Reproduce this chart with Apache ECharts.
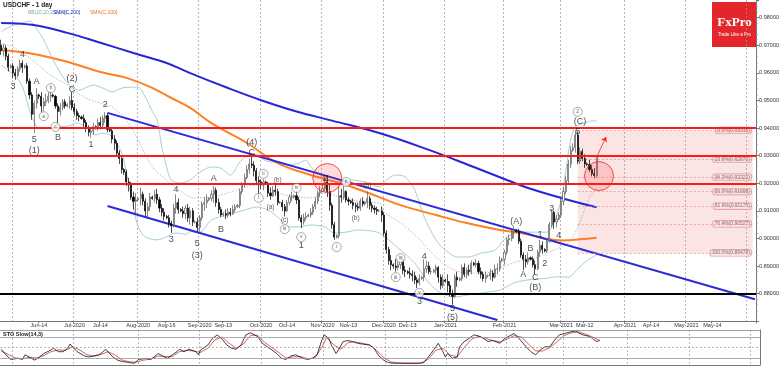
<!DOCTYPE html>
<html><head><meta charset="utf-8">
<script src="https://cdn.jsdelivr.net/npm/echarts@6.0.0/dist/echarts.min.js"></script>
<style>html,body{margin:0;padding:0;background:#fff}#c{width:782px;height:366px}</style>
</head><body><div id="c"></div>
<script>
// ---------- DATA ----------
const startDate = '2020-05-26', endDate = '2021-06-04';
const closedDays = ['2020-12-25', '2021-01-01'];
// daily candles [open, close, low, high] in pips (x 0.0001)
const candles = [
[9700,9680,9665,9720],[9680,9690,9660,9705],[9690,9660,9645,9700],[9660,9620,9605,9670],[9620,9625,9615,9630],
[9625,9600,9580,9635],[9600,9590,9575,9615],[9590,9615,9585,9625],[9615,9635,9605,9648],[9635,9620,9600,9645],
[9620,9625,9615,9630],[9625,9570,9560,9635],[9570,9520,9505,9580],[9520,9450,9430,9530],[9450,9490,9382,9500],
[9490,9520,9470,9545],[9520,9515,9505,9525],[9515,9480,9455,9530],[9480,9495,9462,9510],[9495,9500,9480,9525],
[9500,9515,9490,9530],[9515,9520,9495,9540],[9520,9515,9510,9525],[9515,9480,9470,9520],[9480,9460,9410,9490],
[9460,9475,9445,9490],[9475,9495,9465,9505],[9495,9480,9470,9505],[9480,9485,9475,9490],[9485,9500,9470,9515],
[9500,9475,9465,9530],[9475,9460,9445,9490],[9460,9445,9430,9470],[9445,9440,9425,9455],[9440,9435,9430,9445],
[9435,9420,9405,9450],[9420,9400,9385,9430],[9400,9385,9370,9410],[9385,9390,9365,9400],[9390,9405,9375,9420],
[9405,9400,9395,9410],[9400,9420,9390,9435],[9420,9410,9395,9440],[9410,9435,9400,9445],[9435,9445,9420,9458],
[9445,9395,9385,9455],[9395,9390,9385,9400],[9390,9360,9345,9400],[9360,9345,9320,9375],[9345,9310,9300,9355],
[9310,9290,9270,9320],[9290,9250,9235,9300],[9250,9240,9230,9255],[9240,9205,9190,9250],[9205,9195,9170,9220],
[9195,9150,9140,9205],[9150,9135,9105,9170],[9135,9140,9090,9165],[9140,9145,9135,9150],[9145,9160,9120,9185],
[9160,9135,9120,9170],[9135,9100,9080,9145],[9100,9115,9075,9130],[9115,9150,9100,9165],[9150,9145,9140,9155],
[9145,9160,9130,9175],[9160,9140,9125,9180],[9140,9110,9095,9150],[9110,9095,9080,9125],[9095,9080,9065,9110],
[9080,9075,9070,9085],[9075,9055,9040,9085],[9055,9045,9020,9065],[9045,9110,9040,9125],[9110,9130,9090,9160],
[9130,9105,9090,9145],[9105,9100,9095,9110],[9100,9090,9075,9115],[9090,9110,9070,9120],[9110,9075,9060,9125],
[9075,9100,9050,9115],[9100,9060,9045,9110],[9060,9060,9055,9065],[9060,9040,9025,9075],[9040,9075,9025,9085],
[9075,9125,9065,9135],[9125,9130,9100,9150],[9130,9140,9110,9160],[9140,9145,9135,9150],[9145,9160,9135,9175],
[9160,9175,9130,9190],[9175,9130,9115,9185],[9130,9105,9090,9145],[9105,9085,9078,9115],[9085,9090,9080,9095],
[9090,9085,9070,9105],[9085,9095,9075,9110],[9095,9090,9080,9110],[9090,9105,9085,9120],[9105,9115,9095,9125],
[9115,9120,9110,9125],[9120,9170,9110,9180],[9170,9195,9160,9205],[9195,9220,9185,9235],[9220,9250,9215,9265],
[9250,9270,9235,9290],[9270,9265,9255,9295],[9265,9245,9225,9280],[9245,9210,9195,9255],[9210,9205,9150,9225],
[9205,9195,9180,9215],[9195,9205,9175,9215],[9205,9200,9195,9210],[9200,9165,9150,9205],[9165,9155,9140,9185],
[9155,9175,9150,9190],[9175,9170,9155,9195],[9170,9130,9120,9180],[9130,9130,9125,9135],[9130,9115,9100,9140],
[9115,9100,9080,9125],[9100,9130,9095,9140],[9130,9150,9120,9160],[9150,9150,9135,9170],[9150,9155,9145,9160],
[9155,9140,9125,9175],[9140,9075,9065,9150],[9075,9060,9038,9085],[9060,9075,9050,9090],[9075,9080,9065,9095],
[9080,9085,9078,9090],[9085,9095,9075,9110],[9095,9115,9085,9125],[9115,9135,9105,9150],[9135,9165,9125,9175],
[9165,9170,9150,9190],[9170,9180,9170,9195],[9180,9205,9170,9225],[9205,9170,9150,9230],[9170,9120,9100,9200],
[9120,9050,9035,9130],[9050,9005,8995,9060],[9005,9010,9000,9015],[9010,9155,9000,9190],[9155,9150,9130,9180],
[9150,9170,9140,9190],[9170,9140,9130,9175],[9140,9135,9120,9150],[9135,9130,9125,9140],[9130,9120,9105,9145],
[9120,9115,9095,9130],[9115,9110,9100,9130],[9110,9135,9100,9145],[9135,9125,9115,9150],[9125,9130,9120,9135],
[9130,9145,9110,9170],[9145,9120,9105,9155],[9120,9110,9095,9130],[9110,9105,9090,9120],[9105,9100,9085,9115],
[9100,9100,9095,9105],[9100,9085,9060,9115],[9085,9020,9010,9095],[9020,8960,8945,9030],[8960,8920,8905,8970],
[8920,8905,8885,8940],[8905,8900,8890,8910],[8900,8895,8880,8925],[8895,8905,8885,8930],[8905,8925,8890,8935],
[8925,8885,8870,8935],[8885,8880,8860,8900],[8880,8875,8870,8885],[8875,8870,8855,8895],[8870,8865,8845,8885],
[8865,8850,8835,8880],[8850,8840,8820,8860],[8840,8855,8830,8870],[8855,8860,8850,8865],[8860,8890,8845,8925],
[8890,8900,8875,8920],[8900,8880,8870,8915],[8880,8880,8870,8895],[8880,8885,8875,8890],[8885,8895,8870,8905],
[8895,8860,8840,8900],[8860,8830,8815,8870],[8830,8850,8820,8870],[8850,8845,8840,8855],[8845,8830,8805,8870],
[8830,8800,8790,8845],[8800,8790,8760,8815],[8790,8860,8785,8870],[8860,8850,8825,8880],[8850,8855,8845,8860],
[8855,8895,8845,8905],[8895,8870,8860,8910],[8870,8885,8855,8895],[8885,8880,8865,8905],[8880,8910,8870,8920],
[8910,8905,8900,8915],[8905,8910,8895,8925],[8910,8880,8870,8920],[8880,8870,8855,8895],[8870,8855,8845,8880],
[8855,8865,8840,8880],[8865,8865,8860,8870],[8865,8875,8850,8890],[8875,8860,8845,8885],[8860,8890,8855,8905],
[8890,8890,8870,8910],[8890,8920,8880,8935],[8920,8925,8915,8930],[8925,8950,8905,8960],[8950,8995,8940,9005],
[8995,9000,8975,9015],[9000,9025,8990,9035],[9025,9030,9000,9045],[9030,9025,9020,9035],[9025,8990,8980,9035],
[8990,8940,8930,9000],[8940,8925,8885,8950],[8925,8915,8895,8940],[8915,8930,8905,8950],[8930,8925,8920,8935],
[8925,8905,8895,8935],[8905,8890,8870,8920],[8890,8950,8885,8960],[8950,8975,8935,8995],[8975,8960,8945,8990],
[8960,8955,8950,8965],[8955,8990,8948,9000],[8990,9050,8985,9060],[9050,9095,9040,9105],[9095,9060,9035,9100],
[9060,9070,9040,9085],[9070,9085,9065,9095],[9085,9135,9075,9150],[9135,9170,9120,9185],[9170,9210,9160,9225],
[9210,9270,9200,9285],[9270,9320,9255,9335],[9320,9330,9315,9345],[9330,9375,9310,9392],[9375,9280,9270,9388],
[9280,9315,9270,9330],[9315,9290,9280,9325],[9290,9270,9255,9305],[9270,9268,9262,9275],[9268,9250,9240,9285],
[9250,9235,9225,9265],[9235,9228,9218,9255],[9228,9296,9220,9300]
];
// indicator lines: [bar index, pips]
const sma200 = [[0,9781],[13,9774],[28,9745],[42,9709],[56,9672],[70,9636],[80,9599],[96,9545],[110,9501],[125,9460],[140,9427],[160,9382],[181,9321],[200,9259],[214,9212],[223,9183],[237,9147],[252,9113]];
const sma100 = [[0,9683],[8,9676],[16,9665],[28,9640],[42,9603],[53,9582],[63,9549],[72,9509],[80,9473],[89,9418],[104,9346],[117,9273],[131,9230],[146,9194],[160,9150],[169,9121],[184,9085],[197,9056],[211,9031],[220,9020],[230,9000],[238,8993],[245,8997],[252,9003]];
const bbUpper = [[0,9750],[5,9772],[9,9781],[12,9788],[15,9760],[18,9719],[22,9647],[28,9563],[33,9538],[39,9556],[43,9545],[47,9531],[51,9545],[56,9548],[58,9548],[61,9512],[64,9460],[66,9429],[68,9331],[70,9260],[72,9212],[76,9201],[80,9212],[84,9240],[89,9259],[93,9255],[97,9230],[101,9277],[105,9302],[109,9295],[114,9277],[118,9277],[122,9266],[126,9273],[129,9284],[131,9259],[134,9237],[138,9212],[143,9205],[148,9212],[154,9205],[160,9187],[163,9212],[167,9230],[171,9223],[175,9176],[179,9078],[184,8995],[188,8958],[193,8933],[198,8933],[203,8947],[209,8958],[214,9005],[220,9023],[226,9023],[231,9023],[234,9060],[237,9140],[239,9248],[241,9357],[243,9404],[246,9415],[250,9426],[252,9426]];
const bbLower = [[0,9628],[8,9567],[13,9440],[16,9400],[19,9400],[23,9404],[28,9407],[32,9418],[36,9404],[40,9375],[43,9382],[47,9368],[51,9310],[53,9237],[56,9114],[58,9042],[61,9006],[66,8995],[70,9006],[74,9020],[78,9015],[80,9025],[84,9023],[89,9067],[96,9085],[103,9103],[108,9114],[113,9103],[117,9078],[122,9042],[126,9042],[131,9049],[137,9042],[141,9020],[146,9023],[151,9031],[156,9028],[160,9020],[164,8995],[169,8958],[175,8911],[181,8839],[186,8803],[192,8788],[197,8795],[206,8806],[211,8813],[217,8839],[223,8850],[230,8855],[235,8861],[240,8860],[244,8890],[248,8920],[252,8940]];
const bbMid = [[0,9705],[5,9695],[13,9647],[21,9592],[28,9556],[35,9512],[42,9490],[47,9476],[53,9429],[58,9357],[64,9259],[70,9212],[75,9176],[82,9147],[89,9150],[96,9165],[103,9187],[109,9194],[114,9176],[120,9158],[126,9150],[131,9147],[137,9165],[143,9150],[148,9140],[154,9132],[160,9129],[162,9096],[169,9056],[176,9005],[184,8933],[190,8893],[197,8875],[205,8875],[211,8893],[218,8915],[226,8929],[232,8951],[240,8984],[244,9040],[249,9150],[252,9180]];
// trend channel end points [bar index, pips]
const channelUpper = [[45,9455],[319,8780]];
const channelLower = [[45,9118],[210,8705]];
// horizontal levels
const redLevels = [0.9376, 0.9323, 0.9211];
const blackLevel = 0.8836;
const priceTags = [0.92959, 0.91130, 0.90025];
// fibonacci
const fibLevels = [0.93916, 0.92870, 0.92222, 0.91698, 0.91175, 0.90527, 0.89478];
const fibTexts = ['0.0%(0.93916)','23.6%(0.92870)','38.2%(0.92222)','50.0%(0.91698)','61.8%(0.91175)','76.4%(0.90527)','100.0%(0.89478)'];
const fibStart = 244, fibEnd = 318;
// wave labels [bar index, pips, text]
const waveLabels = [[9,9665,'4'],[5,9552,'3'],[15,9567,'A'],[14,9360,'5'],[14,9317,'(1)'],[24,9367,'B'],[30,9581,'(2)'],[30,9541,'C'],[38,9342,'1'],[44,9487,'2'],[72,8995,'3'],[74,9179,'4'],[83,8980,'5'],[83,8940,'(3)'],[90,9216,'A'],[93,9031,'B'],[106,9349,'(4)'],[106,9313,'C'],[127,8973,'1'],[137,9219,'2'],[177,8770,'3'],[179,8933,'4'],[191,8748,'5'],[191,8715,'(5)'],[218,9063,'(A)'],[221,8871,'A'],[224,8962,'B'],[226,8857,'C'],[226,8821,'(B)'],[228,9016,'1'],[230,8911,'2'],[233,9110,'3'],[236,9009,'4'],[244,9389,'5'],[245,9422,'(C)']];
const circledLabels = [[18,9443,'a'],[21,9545,'b'],[23,9404,'c'],[109,9147,'i'],[111,9234,'ii'],[120,9034,'iii'],[125,9183,'iv'],[127,9005,'v'],[142,8969,'i'],[146,9205,'ii'],[167,8860,'iii'],[169,8929,'iv'],[177,8803,'v'],[244,9459,'2']];
const smallLabels = [[114,9114,'(a)'],[117,9212,'(b)'],[120,9067,'(c)'],[150,9074,'(b)'],[155,9194,'(a)']];
const circleMarks = [[138,9219],[253,9226]];
const arrowMark = [[252,9295],[256,9368]];
// stochastic [bar index, value]
const stoK = [[0,45],[2,29],[4,16],[7,19],[9,16],[10,29],[12,22],[14,14],[16,22],[18,33],[21,43],[22,48],[24,38],[26,38],[28,48],[29,60],[30,52],[32,38],[35,26],[37,23],[39,26],[41,29],[42,33],[44,45],[47,23],[49,14],[51,10],[54,7],[56,5],[58,16],[61,19],[63,16],[65,26],[66,33],[68,26],[70,19],[72,29],[74,38],[75,45],[77,38],[79,45],[82,38],[83,29],[84,43],[87,57],[89,76],[91,86],[93,74],[95,57],[97,48],[99,45],[101,57],[103,86],[105,92],[108,81],[110,62],[112,52],[114,43],[116,33],[118,19],[120,16],[122,26],[124,29],[127,19],[129,16],[131,19],[133,29],[135,71],[136,86],[138,76],[139,57],[141,33],[142,43],[144,67],[146,70],[148,67],[150,62],[152,60],[155,57],[157,48],[159,26],[161,14],[163,7],[165,5],[168,5],[172,5],[176,5],[178,7],[181,33],[183,52],[184,62],[186,38],[187,23],[188,33],[190,19],[192,23],[193,52],[195,67],[197,76],[199,86],[201,83],[203,76],[205,67],[207,70],[210,62],[212,76],[214,83],[216,90],[218,76],[221,52],[223,38],[225,29],[227,43],[229,52],[231,52],[233,71],[235,86],[237,90],[240,95],[242,97],[243,92],[245,86],[247,83],[249,76],[250,70],[251,67],[252,71]];
const stoD = [[0,40],[3,30],[6,20],[9,18],[12,22],[15,20],[18,27],[21,38],[24,43],[27,42],[30,52],[33,43],[36,30],[39,25],[42,30],[45,38],[48,28],[51,14],[54,9],[57,8],[60,14],[63,17],[66,26],[69,24],[72,24],[75,38],[78,42],[81,40],[84,36],[87,48],[90,72],[93,80],[96,62],[99,48],[102,60],[105,85],[108,85],[111,64],[114,50],[117,35],[120,20],[123,23],[126,24],[129,18],[132,20],[135,50],[137,78],[140,58],[143,45],[146,64],[149,66],[152,62],[155,58],[158,42],[161,22],[164,9],[167,6],[172,5],[177,6],[180,18],[183,42],[186,48],[189,28],[192,24],[195,50],[198,74],[201,82],[204,76],[207,70],[210,66],[213,74],[216,84],[219,80],[222,60],[225,40],[228,40],[231,50],[234,66],[237,84],[240,92],[243,95],[246,88],[249,80],[252,70]];
const stoLevels = [80, 50, 20];
const stoTags = [[80,'80.00'],[68,'67.91'],[50,'50.00'],[20,'20.00']];
// date axis labels
const xTickDates = ['2020-06-14','2020-07-01','2020-07-14','2020-08-02','2020-08-16','2020-09-01','2020-09-13','2020-10-01','2020-10-14','2020-11-01','2020-11-13','2020-12-01','2020-12-13','2021-01-03','2021-02-01','2021-03-01','2021-03-12','2021-04-01','2021-04-14','2021-05-02','2021-05-14'];
const xTickTexts = ['Jun-14','Jul-2020','Jul-14','Aug-2020','Aug-16','Sep-2020','Sep-13','Oct-2020','Oct-14','Nov-2020','Nov-13','Dec-2020','Dec-13','Jan-2021','Feb-2021','Mar-2021','Mar-12','Apr-2021','Apr-14','May-2021','May-14'];
// price axis range
const priceMin = 0.87, priceMax = 0.9864, priceStep = 0.01;

// ---------- BUILD ----------
const cats = [];
for (let d = new Date(startDate + 'T00:00:00Z'); d <= new Date(endDate + 'T00:00:00Z'); d.setUTCDate(d.getUTCDate() + 1)) {
  const s = d.toISOString().slice(0, 10);
  if (d.getUTCDay() !== 6 && !closedDays.includes(s)) cats.push(s);
}
const P = v => v / 10000;
const pts = arr => arr.map(([i, v]) => [i, P(v)]);
const isMonthStart = (idx) => idx > 0 && cats[idx].slice(0, 7) !== cats[idx - 1].slice(0, 7);
const isLabel = (idx, val) => xTickDates.includes(val);
const fmtDate = (val) => { const k = xTickDates.indexOf(val); return k < 0 ? '' : xTickTexts[k]; };
const FONT = 'Liberation Sans, Arial, sans-serif';
const gridLine = { show: true, interval: isMonthStart, lineStyle: { color: '#9a9a9a', type: [2, 2], width: 0.7 } };
const tagLabel = { fontSize: 5.5, color: '#222', backgroundColor: '#fff', borderColor: '#777', borderWidth: 0.6, borderRadius: 2, padding: [0.5, 1.5], fontFamily: FONT };

const chart = echarts.init(document.getElementById('c'), null, { renderer: 'canvas' });
const option = {
  animation: false,
  backgroundColor: '#ffffff',
  textStyle: { fontFamily: FONT },
  grid: [
    { left: 0, right: 22, top: 0, bottom: 44.7 },
    { left: 0, right: 22, top: 330, height: 35 }
  ],
  xAxis: [
    { type: 'category', data: cats, gridIndex: 0, boundaryGap: true,
      axisLine: { show: true, lineStyle: { color: '#777', width: 1 } },
      axisTick: { show: true, interval: isLabel, length: 2, lineStyle: { color: '#777' } },
      axisLabel: { interval: isLabel, formatter: fmtDate, fontSize: 5.5, color: '#333', margin: 1.5, fontFamily: FONT },
      splitLine: gridLine },
    { type: 'category', data: cats, gridIndex: 1, boundaryGap: true,
      axisLine: { show: true, lineStyle: { color: '#777' } }, axisTick: { show: false }, axisLabel: { show: false },
      splitLine: gridLine }
  ],
  yAxis: [
    { type: 'value', gridIndex: 0, position: 'right', min: priceMin, max: priceMax, interval: priceStep,
      axisLine: { show: true, lineStyle: { color: '#777' } },
      axisTick: { show: true, length: 3, lineStyle: { color: '#777' } },
      minorTick: { show: true, splitNumber: 5, length: 1.5, lineStyle: { color: '#999' } },
      splitLine: { show: false },
      axisLabel: { fontSize: 5.5, color: '#333', margin: 3, fontFamily: FONT,
        formatter: v => (v < 0.875 || v > 0.985) ? '' : v.toFixed(5) } },
    { type: 'value', gridIndex: 1, position: 'right', min: 0, max: 100,
      axisLine: { show: true, lineStyle: { color: '#777' } }, axisTick: { show: false },
      axisLabel: { show: false }, splitLine: { show: false } }
  ],
  graphic: [
    { type: 'text', left: 3, top: 2, style: { text: 'USDCHF - 1 day', font: 'bold 6.5px ' + FONT, fill: '#222' } },
    { type: 'text', left: 28, top: 10, style: { text: 'BB(20,20,2,0,2,0)', font: '5px ' + FONT, fill: '#79b0b0' } },
    { type: 'text', left: 53, top: 10, style: { text: 'SMA(C,200)', font: '5px ' + FONT, fill: '#2222d0' } },
    { type: 'text', left: 90, top: 10, style: { text: 'SMA(C,100)', font: '5px ' + FONT, fill: '#f07020' } },
    { type: 'text', left: 3, top: 331, style: { text: 'STO Slow(14,3)', font: 'bold 5.5px ' + FONT, fill: '#222' } },
    { type: 'group', left: 712, top: 2, children: [
      { type: 'rect', shape: { x: 0, y: 0, width: 45, height: 45 }, style: { fill: '#e3262c' } },
      { type: 'text', x: 22.5, y: 21, style: { text: 'FxPro', font: 'bold 13px "Liberation Serif", serif', fill: '#fff', textAlign: 'center', textVerticalAlign: 'middle' } },
      { type: 'text', x: 22.5, y: 33, style: { text: 'Trade Like a Pro', font: '4.5px ' + FONT, fill: '#fff', textAlign: 'center', textVerticalAlign: 'middle' } }
    ] }
  ],
  series: [
    { name: 'BBup', type: 'line', xAxisIndex: 0, yAxisIndex: 0, data: pts(bbUpper), smooth: 0.3, symbol: 'none', lineStyle: { color: '#9cc9c9', width: 0.9 }, z: 2 },
    { name: 'BBlo', type: 'line', xAxisIndex: 0, yAxisIndex: 0, data: pts(bbLower), smooth: 0.3, symbol: 'none', lineStyle: { color: '#9cc9c9', width: 0.9 }, z: 2 },
    { name: 'BBmid', type: 'line', xAxisIndex: 0, yAxisIndex: 0, data: pts(bbMid), smooth: 0.3, symbol: 'none', lineStyle: { color: '#a0a0a0', width: 0.7, type: [1.5, 1.5] }, z: 2 },
    { name: 'SMA200', type: 'line', data: pts(sma200), smooth: 0.4, symbol: 'none', lineStyle: { color: '#2626d6', width: 2 }, z: 2 },
    { name: 'SMA100', type: 'line', data: pts(sma100), smooth: 0.4, symbol: 'none', lineStyle: { color: '#ff7f22', width: 2 }, z: 2 },
    { name: 'ChanUp', type: 'line', data: pts(channelUpper), symbol: 'none', lineStyle: { color: '#2a2ad8', width: 2 }, z: 2 },
    { name: 'ChanLo', type: 'line', data: pts(channelLower), symbol: 'none', lineStyle: { color: '#2a2ad8', width: 2 }, z: 2 },
    { name: 'USDCHF', type: 'candlestick', data: candles.map(c => c.map(P)), barWidth: 1.6, z: 3,
      itemStyle: { color: '#ffffff', color0: '#000000', borderColor: '#555555', borderColor0: '#000000', borderWidth: 0.7 },
      markLine: { silent: true, symbol: 'none', animation: false,
        data: [
          ...redLevels.map(v => ({ yAxis: v, lineStyle: { color: '#ff1a1a', width: 2, type: 'solid' }, label: { show: false } })),
          { yAxis: blackLevel, lineStyle: { color: '#000', width: 2, type: 'solid' }, label: { show: false } },
          ...priceTags.map(v => ({ yAxis: v, lineStyle: { width: 0, opacity: 0 }, label: Object.assign({ show: true, position: 'end', distance: 2, formatter: () => v.toFixed(5) }, tagLabel) }))
        ] } },
    { name: 'fib', type: 'scatter', symbolSize: 0.1, itemStyle: { color: 'transparent' }, z: 4,
      data: fibLevels.map((v, k) => [cats[fibEnd], v, fibTexts[k]]),
      label: { show: true, position: 'left', distance: 1, formatter: p => p.data[2], fontSize: 5, color: '#555', backgroundColor: '#fbe3e3', borderColor: '#e07a7a', borderWidth: 0.6, borderRadius: 2, padding: [0.5, 1.5] },
      markLine: { silent: true, symbol: 'none', label: { show: false },
        lineStyle: { color: '#ec8a8a', width: 0.7, type: [2, 2] },
        data: fibLevels.map(v => [{ coord: [cats[fibStart], v] }, { coord: [cats[fibEnd], v] }]) },
      markArea: { silent: true, itemStyle: { color: 'rgba(238,130,130,0.22)' },
        data: [[{ coord: [cats[fibStart], fibLevels[0]] }, { coord: [cats[fibEnd], fibLevels[6]] }]] } },
    { name: 'circles', type: 'scatter', data: pts(circleMarks), symbol: 'circle', symbolSize: 29, z: 4,
      itemStyle: { color: 'rgba(255,40,40,0.2)', borderColor: '#ff2020', borderWidth: 1 },
      markLine: { silent: true, symbol: ['none', 'arrow'], symbolSize: 5, label: { show: false },
        lineStyle: { color: '#ff2020', width: 0.8, type: 'solid' },
        data: [[{ coord: [arrowMark[0][0], P(arrowMark[0][1])] }, { coord: [arrowMark[1][0], P(arrowMark[1][1])] }]] } },
    { name: 'waves', type: 'scatter', symbolSize: 0.1, itemStyle: { color: 'transparent' }, z: 6,
      data: waveLabels.map(([i, v, t]) => [i, P(v), t]),
      label: { show: true, position: 'inside', formatter: p => p.data[2], fontSize: 9, color: '#222' } },
    { name: 'circled', type: 'scatter', symbol: 'circle', symbolSize: 9, z: 6,
      itemStyle: { color: '#fff', borderColor: '#666', borderWidth: 0.7 },
      data: circledLabels.map(([i, v, t]) => [i, P(v), t]),
      label: { show: true, position: 'inside', formatter: p => p.data[2], fontSize: 5, color: '#333' } },
    { name: 'small', type: 'scatter', symbolSize: 0.1, itemStyle: { color: 'transparent' }, z: 6,
      data: smallLabels.map(([i, v, t]) => [i, P(v), t]),
      label: { show: true, position: 'inside', formatter: p => p.data[2], fontSize: 6.5, color: '#333' } },
    { name: '%K', type: 'line', xAxisIndex: 1, yAxisIndex: 1, data: stoK, symbol: 'none', lineStyle: { color: '#111', width: 0.8 }, z: 3,
      markLine: { silent: true, symbol: 'none',
        data: [
          { yAxis: 100, lineStyle: { color: '#888', width: 0.8, type: 'solid' }, label: { show: false } },
          { yAxis: stoLevels[0], lineStyle: { color: '#999', width: 0.8, type: 'solid' }, label: { show: false } },
          { yAxis: stoLevels[1], lineStyle: { color: '#999', width: 0.7, type: [2, 2] }, label: { show: false } },
          { yAxis: stoLevels[2], lineStyle: { color: '#999', width: 0.8, type: 'solid' }, label: { show: false } },
          ...stoTags.map(([v, t]) => ({ yAxis: v, lineStyle: { width: 0, opacity: 0 }, label: Object.assign({ show: true, position: 'end', distance: 2, formatter: () => t }, tagLabel, { fontSize: 4.5 }) }))
        ] } },
    { name: '%D', type: 'line', xAxisIndex: 1, yAxisIndex: 1, data: stoD, symbol: 'none', lineStyle: { color: '#d03a3a', width: 0.8 }, z: 2 }
  ]
};
chart.setOption(option);
</script>
</body></html>
